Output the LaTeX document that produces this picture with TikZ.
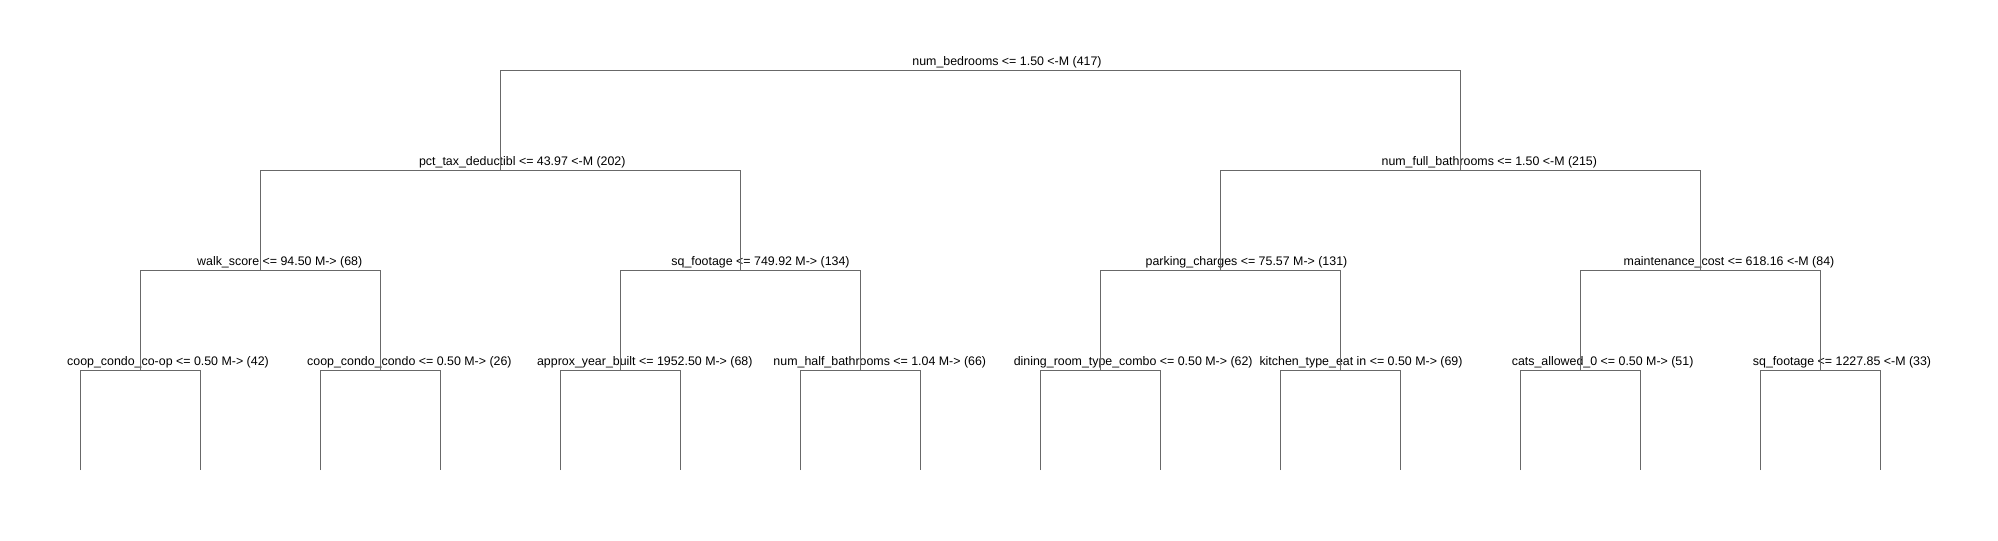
\documentclass[tikz,border=0pt]{standalone}
\usepackage{fontspec}
\setmainfont{Liberation Sans}
\definecolor{edgegray}{RGB}{104,104,104}
\begin{document}
\begin{tikzpicture}[x=0.75pt,y=-0.75pt,
  lbl/.style={anchor=base,inner sep=0pt,font=\fontsize{9.3pt}{11pt}\selectfont,text=black},
  edge/.style={draw=edgegray,line width=0.75pt}]
\useasboundingbox[fill=white] (0,0) rectangle (1998,540);
% junction coordinates (node centres on their bar)
\coordinate (r)   at (980,70);
\coordinate (a)   at (500,170);
\coordinate (b)   at (1460,170);
\coordinate (aa)  at (260,270);
\coordinate (ab)  at (740,270);
\coordinate (ba)  at (1220,270);
\coordinate (bb)  at (1700,270);
\foreach \n/\x in {aaa/140,aab/380,aba/620,abb/860,baa/1100,bab/1340,bba/1580,bbb/1820}
  \coordinate (\n) at (\x,370);
\foreach \i in {0,...,15}
  \coordinate (leaf\i) at ({80+120*\i},470);
% labels
\node[lbl] (tr)   at (1007,65.5)  {num\_bedrooms <= 1.50 <-M (417)};
\node[lbl] (ta)   at (522.3,165.5) {pct\_tax\_deductibl <= 43.97 <-M (202)};
\node[lbl] (tb)   at (1489.3,165.5) {num\_full\_bathrooms <= 1.50 <-M (215)};
\node[lbl] (taa)  at (279.7,265.5) {walk\_score <= 94.50 M-> (68)};
\node[lbl] (tab)  at (760.5,265.5) {sq\_footage <= 749.92 M-> (134)};
\node[lbl] (tba)  at (1246.5,265.5) {parking\_charges <= 75.57 M-> (131)};
\node[lbl] (tbb)  at (1729,265.5) {maintenance\_cost <= 618.16 <-M (84)};
\node[lbl] (taaa) at (168,365.5) {coop\_condo\_co-op <= 0.50 M-> (42)};
\node[lbl] (taab) at (409.4,365.5) {coop\_condo\_condo <= 0.50 M-> (26)};
\node[lbl] (taba) at (644.8,365.5) {approx\_year\_built <= 1952.50 M-> (68)};
\node[lbl] (tabb) at (879.8,365.5) {num\_half\_bathrooms <= 1.04 M-> (66)};
\node[lbl] (tbaa) at (1133.2,365.5) {dining\_room\_type\_combo <= 0.50 M-> (62)};
\node[lbl] (tbab) at (1361,365.5) {kitchen\_type\_eat in <= 0.50 M-> (69)};
\node[lbl] (tbba) at (1602.6,365.5) {cats\_allowed\_0 <= 0.50 M-> (51)};
\node[lbl] (tbbb) at (1842,365.5) {sq\_footage <= 1227.85 <-M (33)};
% connectors
\foreach \p/\l/\rr in {r/a/b, a/aa/ab, b/ba/bb, aa/aaa/aab, ab/aba/abb, ba/baa/bab, bb/bba/bbb}{
  \draw[edge] (\l) -- (\l |- \p) -- (\rr |- \p) -- (\rr);
}
\foreach \n [count=\k from 0] in {aaa,aab,aba,abb,baa,bab,bba,bbb}{
  \pgfmathtruncatemacro{\li}{2*\k}
  \pgfmathtruncatemacro{\ri}{2*\k+1}
  \draw[edge] (leaf\li) -- (leaf\li |- \n) -- (leaf\ri |- \n) -- (leaf\ri);
}
\end{tikzpicture}
\end{document}
